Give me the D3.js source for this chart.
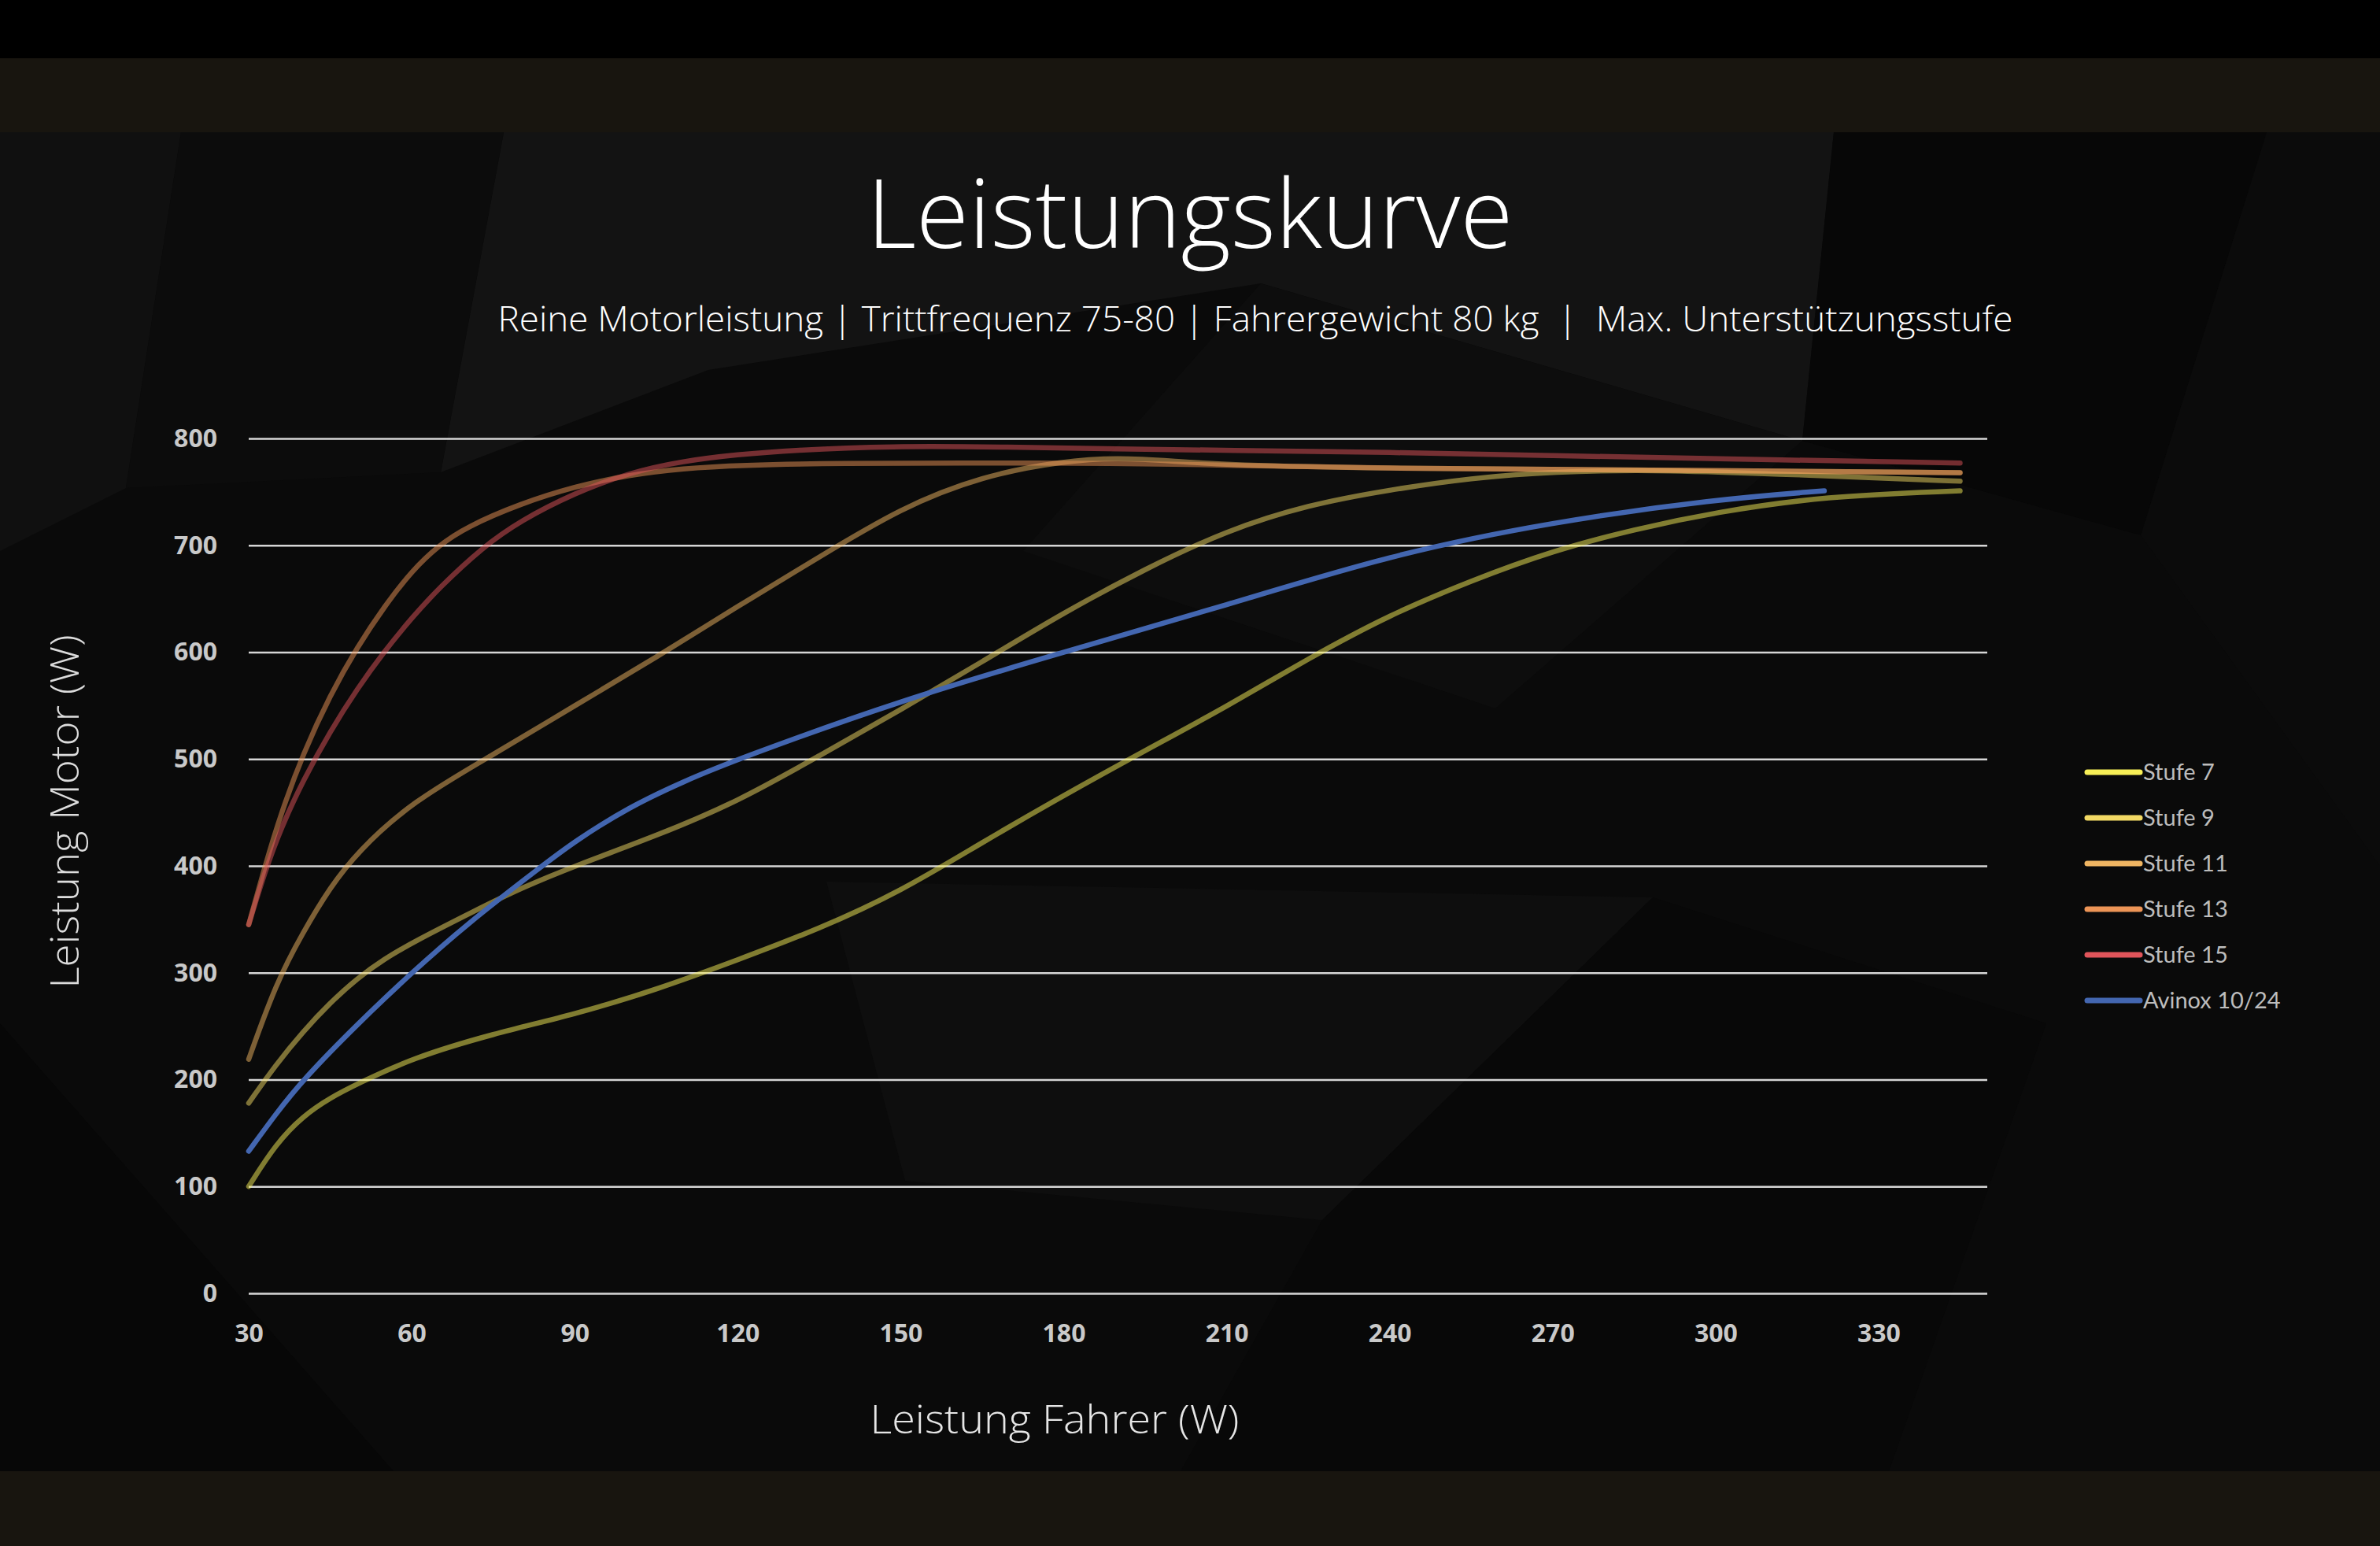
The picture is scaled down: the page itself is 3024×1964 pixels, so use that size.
<!DOCTYPE html>
<html lang="de">
<head>
<meta charset="utf-8">
<title>Leistungskurve</title>
<script src="https://cdn.jsdelivr.net/npm/d3@7"></script>
<style>
    html, body { margin: 0; padding: 0; background: #000; }
    svg { display: block; }
    .tick text { font-family: "Open Sans", "Noto Sans", sans-serif; font-weight: 700; font-size: 32px; fill: #c9c9c9; }
</style>
</head>
<body>
<div id="chart"></div>
<script>
// Data (x = Leistung Fahrer, y = Leistung Motor)
const stufe7 = [[30,100],[35,140],[40,166],[45,183],[50,196],[60,220],[75,243],[90,261],[105,284],[120,312],[135,341],[150,376],[165,422],[180,466],[195,508],[210,549],[225,594],[240,635],[255,667],[270,695],[285,715],[300,731],[320,746],[345,751]];
const stufe9 = [[30,178],[35,214],[40,245],[45,272],[50,295],[55,313],[60,328],[72,359],[80,379],[90,400],[105,428],[120,460],[135,503],[150,546],[165,591],[180,637],[195,678],[210,714],[225,738],[240,752],[255,763],[270,769],[290,771],[320,765],[345,760]];
const stufe11 = [[30,219],[35,290],[40,338],[45,380],[50,413],[60,460],[75,504],[90,550],[105,595],[120,643],[135,689],[150,735],[165,765],[180,779],[190,782],[200,779],[210,775],[240,772],[270,771],[300,770],[345,768]];
const stufe13 = [[30,345],[33,400],[36,450],[40,505],[45,560],[50,605],[55,643],[60,676],[65,700],[70,717],[80,739],[90,755],[100,766],[110,772],[120,775],[140,777],[160,777],[190,777],[210,775],[240,772],[270,771],[300,770],[345,768]];
const stufe15 = [[30,345],[33,395],[36,436],[40,480],[45,526],[50,566],[55,601],[60,632],[65,660],[73,698],[80,723],[90,749],[100,768],[110,779],[120,785],[130,789],[148,793],[170,792],[190,790],[210,789],[240,787],[270,784],[300,781],[345,777]];
const avinox = [[30,133],[35,168],[40,200],[50,252],[60,300],[70,345],[84,400],[90,423],[100,455],[110,479],[120,500],[150,555],[180,600],[210,644],[240,691],[270,722],[300,743],[320,751]];

const seriesNames = ['Stufe 7', 'Stufe 9', 'Stufe 11', 'Stufe 13', 'Stufe 15', 'Avinox 10/24'];
const seriesColors = ['#f7ef57', '#f2d964', '#efb562', '#ec9456', '#e0545a', '#4366b0'];
const seriesValues = [stufe7, stufe9, stufe11, stufe13, stufe15, avinox];

const xTicks = [30, 60, 90, 120, 150, 180, 210, 240, 270, 300, 330];
const yTicks = [0, 100, 200, 300, 400, 500, 600, 700, 800];

const titleText = 'Leistungskurve';
const subtitleText = 'Reine Motorleistung | Trittfrequenz 75-80 | Fahrergewicht 80 kg  |  Max. Unterstützungsstufe';
const xTitle = 'Leistung Fahrer (W)';
const yTitle = 'Leistung Motor (W)';

// Layout
const W = 3024, H = 1964;
const plot = { left: 316, right: 2525, top: 557, bottom: 1643 };
const lightFont = '"Open Sans", "Lato", "Noto Sans", sans-serif';

const svg = d3.select('#chart').append('svg')
    .attr('width', W)
    .attr('height', H)
    .attr('viewBox', `0 0 ${W} ${H}`);

// Background: black top strip, brown bands, dark low-poly panel
svg.append('rect').attr('width', W).attr('height', H).attr('fill', '#000');
svg.append('rect').attr('y', 74).attr('width', W).attr('height', 94).attr('fill', '#18150f');
svg.append('rect').attr('y', 168).attr('width', W).attr('height', 1701).attr('fill', '#0a0a0a');
svg.append('rect').attr('y', 1869).attr('width', W).attr('height', H - 1869).attr('fill', '#18150f');

const facets = [
    { pts: [[640,168],[2330,168],[2290,560],[1602,360],[900,470],[560,600]], fill: '#131313' },
    { pts: [[2330,168],[2880,168],[2720,680],[2290,560]], fill: '#070707' },
    { pts: [[0,168],[230,168],[160,620],[0,700]], fill: '#101010' },
    { pts: [[230,168],[640,168],[560,600],[160,620]], fill: '#0c0c0c' },
    { pts: [[1602,360],[2290,560],[1900,900],[1300,700]], fill: '#0d0d0d' },
    { pts: [[1050,1120],[2100,1140],[1680,1550],[1150,1500]], fill: '#0e0e0e' },
    { pts: [[1680,1550],[2100,1140],[2600,1300],[2400,1869],[1500,1869]], fill: '#080808' },
    { pts: [[2880,168],[3024,168],[3024,1100],[2720,680]], fill: '#0b0b0b' },
    { pts: [[0,1300],[500,1869],[0,1869]], fill: '#070707' }
];
svg.append('g').selectAll('polygon')
    .data(facets)
    .join('polygon')
    .attr('points', d => d.pts.map(p => p.join(',')).join(' '))
    .attr('fill', d => d.fill);

// Scales
const x = d3.scaleLinear().domain([30, 350]).range([plot.left, plot.right]);
const y = d3.scaleLinear().domain([0, 800]).range([plot.bottom, plot.top]);

// Y axis with gridlines
const yAxis = svg.append('g')
    .attr('transform', `translate(${plot.left},0)`)
    .call(d3.axisLeft(y).tickValues(yTicks).tickSize(-(plot.right - plot.left)).tickPadding(40));
yAxis.select('.domain').remove();
yAxis.selectAll('.tick line').attr('stroke', '#d6d6d6').attr('stroke-width', 2.4);

// X axis (labels only)
const xAxis = svg.append('g')
    .attr('transform', `translate(0,${plot.bottom})`)
    .call(d3.axisBottom(x).tickValues(xTicks).tickSize(0).tickPadding(39));
xAxis.select('.domain').remove();

// Curves (smoothed like the spreadsheet's "smooth line" option)
const line = d3.line()
    .x(d => x(d[0]))
    .y(d => y(d[1]))
    .curve(d3.curveBasis);

svg.append('g').selectAll('path')
    .data(seriesValues)
    .join('path')
    .attr('d', line)
    .attr('fill', 'none')
    .attr('stroke', (d, i) => seriesColors[i])
    .attr('stroke-opacity', (d, i) => i === 5 ? 1 : 0.5)
    .attr('stroke-width', 6.5)
    .attr('stroke-linecap', 'round')
    .attr('stroke-linejoin', 'round');

// Titles
svg.append('text')
    .attr('x', 1512).attr('y', 315)
    .attr('text-anchor', 'middle')
    .attr('textLength', 821).attr('lengthAdjust', 'spacingAndGlyphs')
    .style('font-family', lightFont).style('font-weight', 300)
    .style('font-size', '122px').attr('fill', '#ffffff')
    .text(titleText);

svg.append('text')
    .attr('x', 1595).attr('y', 421)
    .attr('text-anchor', 'middle')
    .attr('textLength', 1925).attr('lengthAdjust', 'spacingAndGlyphs')
    .style('white-space', 'pre')
    .style('font-family', lightFont).style('font-weight', 300)
    .style('font-size', '45px').attr('fill', '#ffffff')
    .text(subtitleText);

svg.append('text')
    .attr('x', 1340).attr('y', 1821)
    .attr('text-anchor', 'middle')
    .attr('textLength', 469).attr('lengthAdjust', 'spacingAndGlyphs')
    .style('font-family', lightFont).style('font-weight', 300)
    .style('font-size', '50px').attr('fill', '#e6e6e6')
    .text(xTitle);

svg.append('text')
    .attr('transform', 'translate(100,1031) rotate(-90)')
    .attr('text-anchor', 'middle')
    .attr('textLength', 449).attr('lengthAdjust', 'spacingAndGlyphs')
    .style('font-family', lightFont).style('font-weight', 300)
    .style('font-size', '50px').attr('fill', '#dcdcdc')
    .text(yTitle);

// Legend
const legend = svg.append('g').attr('transform', 'translate(2652,981)');
const items = legend.selectAll('g')
    .data(seriesNames)
    .join('g')
    .attr('transform', (d, i) => `translate(0,${i * 58})`);
items.append('line')
    .attr('x1', 0).attr('x2', 67)
    .attr('stroke', (d, i) => seriesColors[i])
    .attr('stroke-width', 7)
    .attr('stroke-linecap', 'round');
items.append('text')
    .attr('x', 71).attr('y', 10)
    .style('font-family', '"Lato", "Open Sans", sans-serif')
    .style('font-size', '29px')
    .attr('fill', '#bdbdbd')
    .text(d => d);
</script>
</body>
</html>
